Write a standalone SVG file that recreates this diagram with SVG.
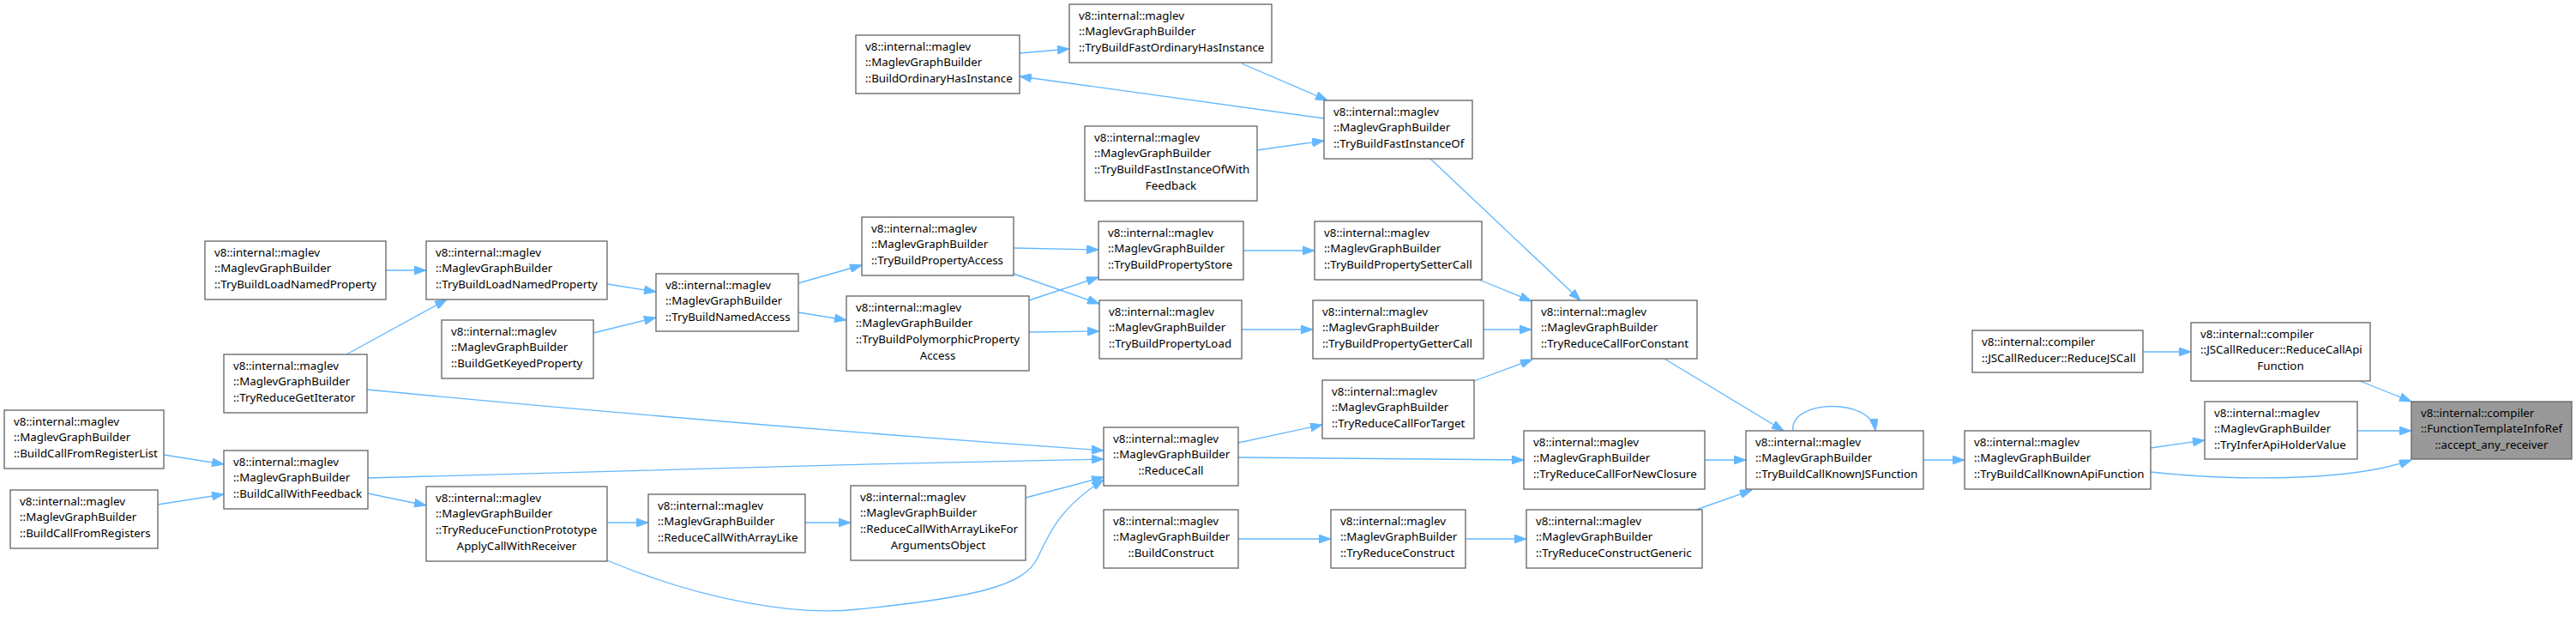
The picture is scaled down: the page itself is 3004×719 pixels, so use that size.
<svg xmlns="http://www.w3.org/2000/svg" width="3004" height="719" viewBox="0 0 3004 719">
<defs>
<style>
.n rect{fill:#ffffff;stroke:#666666;stroke-width:1.33}
.n.hl rect{fill:#999999}
.n text{font-family:"Noto Sans","DejaVu Sans",sans-serif;font-size:13.33px;fill:#000000}
.n text.c{text-anchor:middle}
#edges path{fill:none;stroke:#63b8ff;stroke-width:1.33;marker-end:url(#ah)}
</style>
<marker id="ah" markerUnits="userSpaceOnUse" markerWidth="14" markerHeight="10" refX="14" refY="5" orient="auto" viewBox="0 0 14 10">
<path d="M0,0 L14,5 L0,10 z" fill="#63b8ff" stroke="#63b8ff" stroke-width="1"/>
</marker>
</defs>
<rect width="3004" height="719" fill="#ffffff"/>
<g id="edges">
<path d="M450,315 L497,315"/>
<path d="M404,413 L521,349"/>
<path d="M428,454 C700,480 1000,505 1287,525"/>
<path d="M429,557 C700,550 1000,540 1287,535"/>
<path d="M191,530 L261,541"/>
<path d="M184,588 L261,576"/>
<path d="M429,575 L497,589"/>
<path d="M708,609 L756,609"/>
<path d="M939,609 L992,609"/>
<path d="M1196,580 L1287,556"/>
<path d="M708,653 C820,700 930,718 1000,710 C1140,696 1195,682 1210,650 C1225,618 1238,590 1287,559"/>
<path d="M931,330 L1005,309"/>
<path d="M931,364 L987,373"/>
<path d="M708,331 L765,340"/>
<path d="M692,388 L765,370"/>
<path d="M1182,289 L1281,291"/>
<path d="M1182,319 L1282,354"/>
<path d="M1200,350 L1281,323"/>
<path d="M1200,387 L1282,386"/>
<path d="M1189,62 L1247,57"/>
<path d="M1544,138 L1189,89"/>
<path d="M1448,74 L1548,117"/>
<path d="M1466,175 L1544,164"/>
<path d="M1450,292 L1533,292"/>
<path d="M1448,384 L1531,384"/>
<path d="M1725,326 L1786,351"/>
<path d="M1668,185 L1843,350"/>
<path d="M1730,384 L1786,384"/>
<path d="M1719,444 L1787,419"/>
<path d="M1444,516 L1542,495"/>
<path d="M1444,533 C1600,534 1700,535 1777,536"/>
<path d="M1444,628 L1552,628"/>
<path d="M1709,628 L1780,628"/>
<path d="M1978,594 L2043,571"/>
<path d="M1988,536 L2036,536"/>
<path d="M1941,418 L2080,502"/>
<path d="M2091,502 C2086,466 2182,462 2187,502"/>
<path d="M2243,536 L2291,536"/>
<path d="M2508,522 L2571,513"/>
<path d="M2508,550 C2600,560 2740,562 2812,536"/>
<path d="M2749,502 L2812,502"/>
<path d="M2499,410 L2555,410"/>
<path d="M2752,444 L2812,468"/>
</g>
<g id="n1" class="n"><rect x="5" y="478" width="186" height="68"/><text x="16" y="495.7">v8::internal::maglev</text><text x="16" y="514.4">::MaglevGraphBuilder</text><text x="16" y="533.1">::BuildCallFromRegisterList</text></g>
<g id="n2" class="n"><rect x="12" y="571" width="172" height="68"/><text x="23" y="588.7">v8::internal::maglev</text><text x="23" y="607.4">::MaglevGraphBuilder</text><text x="23" y="626.1">::BuildCallFromRegisters</text></g>
<g id="n3" class="n"><rect x="239" y="281" width="211" height="68"/><text x="250" y="298.7">v8::internal::maglev</text><text x="250" y="317.4">::MaglevGraphBuilder</text><text x="250" y="336.1">::TryBuildLoadNamedProperty</text></g>
<g id="n4" class="n"><rect x="261" y="413" width="167" height="68"/><text x="272" y="430.7">v8::internal::maglev</text><text x="272" y="449.4">::MaglevGraphBuilder</text><text x="272" y="468.1">::TryReduceGetIterator</text></g>
<g id="n5" class="n"><rect x="261" y="525" width="168" height="68"/><text x="272" y="542.7">v8::internal::maglev</text><text x="272" y="561.4">::MaglevGraphBuilder</text><text x="272" y="580.1">::BuildCallWithFeedback</text></g>
<g id="n6" class="n"><rect x="497" y="281" width="211" height="68"/><text x="508" y="298.7">v8::internal::maglev</text><text x="508" y="317.4">::MaglevGraphBuilder</text><text x="508" y="336.1">::TryBuildLoadNamedProperty</text></g>
<g id="n7" class="n"><rect x="515" y="373" width="177" height="68"/><text x="526" y="390.7">v8::internal::maglev</text><text x="526" y="409.4">::MaglevGraphBuilder</text><text x="526" y="428.1">::BuildGetKeyedProperty</text></g>
<g id="n8" class="n"><rect x="497" y="567" width="211" height="87"/><text x="508" y="584.7">v8::internal::maglev</text><text x="508" y="603.4">::MaglevGraphBuilder</text><text x="508" y="622.1">::TryReduceFunctionPrototype</text><text class="c" x="602.5" y="640.8">ApplyCallWithReceiver</text></g>
<g id="n9" class="n"><rect x="765" y="319" width="166" height="67"/><text x="776" y="336.7">v8::internal::maglev</text><text x="776" y="355.4">::MaglevGraphBuilder</text><text x="776" y="374.1">::TryBuildNamedAccess</text></g>
<g id="n10" class="n"><rect x="756" y="576" width="183" height="68"/><text x="767" y="593.7">v8::internal::maglev</text><text x="767" y="612.4">::MaglevGraphBuilder</text><text x="767" y="631.1">::ReduceCallWithArrayLike</text></g>
<g id="n11" class="n"><rect x="998" y="41" width="191" height="68"/><text x="1009" y="58.7">v8::internal::maglev</text><text x="1009" y="77.4">::MaglevGraphBuilder</text><text x="1009" y="96.1">::BuildOrdinaryHasInstance</text></g>
<g id="n12" class="n"><rect x="1005" y="253" width="177" height="68"/><text x="1016" y="270.7">v8::internal::maglev</text><text x="1016" y="289.4">::MaglevGraphBuilder</text><text x="1016" y="308.1">::TryBuildPropertyAccess</text></g>
<g id="n13" class="n"><rect x="987" y="345" width="213" height="87"/><text x="998" y="362.7">v8::internal::maglev</text><text x="998" y="381.4">::MaglevGraphBuilder</text><text x="998" y="400.1">::TryBuildPolymorphicProperty</text><text class="c" x="1093.5" y="418.8">Access</text></g>
<g id="n14" class="n"><rect x="992" y="566" width="204" height="87"/><text x="1003" y="583.7">v8::internal::maglev</text><text x="1003" y="602.4">::MaglevGraphBuilder</text><text x="1003" y="621.1">::ReduceCallWithArrayLikeFor</text><text class="c" x="1094" y="639.8">ArgumentsObject</text></g>
<g id="n15" class="n"><rect x="1247" y="5" width="236" height="68"/><text x="1258" y="22.7">v8::internal::maglev</text><text x="1258" y="41.4">::MaglevGraphBuilder</text><text x="1258" y="60.1">::TryBuildFastOrdinaryHasInstance</text></g>
<g id="n16" class="n"><rect x="1265" y="147" width="201" height="87"/><text x="1276" y="164.7">v8::internal::maglev</text><text x="1276" y="183.4">::MaglevGraphBuilder</text><text x="1276" y="202.1">::TryBuildFastInstanceOfWith</text><text class="c" x="1365.5" y="220.8">Feedback</text></g>
<g id="n17" class="n"><rect x="1281" y="258" width="169" height="68"/><text x="1292" y="275.7">v8::internal::maglev</text><text x="1292" y="294.4">::MaglevGraphBuilder</text><text x="1292" y="313.1">::TryBuildPropertyStore</text></g>
<g id="n18" class="n"><rect x="1282" y="350" width="166" height="68"/><text x="1293" y="367.7">v8::internal::maglev</text><text x="1293" y="386.4">::MaglevGraphBuilder</text><text x="1293" y="405.1">::TryBuildPropertyLoad</text></g>
<g id="n19" class="n"><rect x="1287" y="498" width="157" height="68"/><text x="1298" y="515.7">v8::internal::maglev</text><text x="1298" y="534.4">::MaglevGraphBuilder</text><text class="c" x="1365.5" y="553.1">::ReduceCall</text></g>
<g id="n20" class="n"><rect x="1287" y="594" width="157" height="68"/><text x="1298" y="611.7">v8::internal::maglev</text><text x="1298" y="630.4">::MaglevGraphBuilder</text><text class="c" x="1365.5" y="649.1">::BuildConstruct</text></g>
<g id="n21" class="n"><rect x="1544" y="117" width="173" height="68"/><text x="1555" y="134.7">v8::internal::maglev</text><text x="1555" y="153.4">::MaglevGraphBuilder</text><text x="1555" y="172.1">::TryBuildFastInstanceOf</text></g>
<g id="n22" class="n"><rect x="1533" y="258" width="195" height="68"/><text x="1544" y="275.7">v8::internal::maglev</text><text x="1544" y="294.4">::MaglevGraphBuilder</text><text x="1544" y="313.1">::TryBuildPropertySetterCall</text></g>
<g id="n23" class="n"><rect x="1531" y="350" width="199" height="68"/><text x="1542" y="367.7">v8::internal::maglev</text><text x="1542" y="386.4">::MaglevGraphBuilder</text><text x="1542" y="405.1">::TryBuildPropertyGetterCall</text></g>
<g id="n24" class="n"><rect x="1542" y="443" width="177" height="68"/><text x="1553" y="460.7">v8::internal::maglev</text><text x="1553" y="479.4">::MaglevGraphBuilder</text><text x="1553" y="498.1">::TryReduceCallForTarget</text></g>
<g id="n25" class="n"><rect x="1552" y="594" width="157" height="68"/><text x="1563" y="611.7">v8::internal::maglev</text><text x="1563" y="630.4">::MaglevGraphBuilder</text><text x="1563" y="649.1">::TryReduceConstruct</text></g>
<g id="n26" class="n"><rect x="1786" y="350" width="193" height="68"/><text x="1797" y="367.7">v8::internal::maglev</text><text x="1797" y="386.4">::MaglevGraphBuilder</text><text x="1797" y="405.1">::TryReduceCallForConstant</text></g>
<g id="n27" class="n"><rect x="1777" y="502" width="211" height="68"/><text x="1788" y="519.7">v8::internal::maglev</text><text x="1788" y="538.4">::MaglevGraphBuilder</text><text x="1788" y="557.1">::TryReduceCallForNewClosure</text></g>
<g id="n28" class="n"><rect x="1780" y="594" width="205" height="68"/><text x="1791" y="611.7">v8::internal::maglev</text><text x="1791" y="630.4">::MaglevGraphBuilder</text><text x="1791" y="649.1">::TryReduceConstructGeneric</text></g>
<g id="n29" class="n"><rect x="2036" y="502" width="207" height="68"/><text x="2047" y="519.7">v8::internal::maglev</text><text x="2047" y="538.4">::MaglevGraphBuilder</text><text x="2047" y="557.1">::TryBuildCallKnownJSFunction</text></g>
<g id="n30" class="n"><rect x="2291" y="502" width="217" height="68"/><text x="2302" y="519.7">v8::internal::maglev</text><text x="2302" y="538.4">::MaglevGraphBuilder</text><text x="2302" y="557.1">::TryBuildCallKnownApiFunction</text></g>
<g id="n31" class="n"><rect x="2300" y="385" width="199" height="49"/><text x="2311" y="403">v8::internal::compiler</text><text x="2311" y="421.7">::JSCallReducer::ReduceJSCall</text></g>
<g id="n32" class="n"><rect x="2555" y="376" width="209" height="68"/><text x="2566" y="393.7">v8::internal::compiler</text><text x="2566" y="412.4">::JSCallReducer::ReduceCallApi</text><text class="c" x="2659.5" y="431.1">Function</text></g>
<g id="n33" class="n"><rect x="2571" y="468" width="178" height="67"/><text x="2582" y="485.7">v8::internal::maglev</text><text x="2582" y="504.4">::MaglevGraphBuilder</text><text x="2582" y="523.1">::TryInferApiHolderValue</text></g>
<g id="n34" class="n hl"><rect x="2812" y="468" width="187" height="67"/><text x="2823" y="485.7">v8::internal::compiler</text><text x="2823" y="504.4">::FunctionTemplateInfoRef</text><text class="c" x="2905.5" y="523.1">::accept_any_receiver</text></g>
</svg>
